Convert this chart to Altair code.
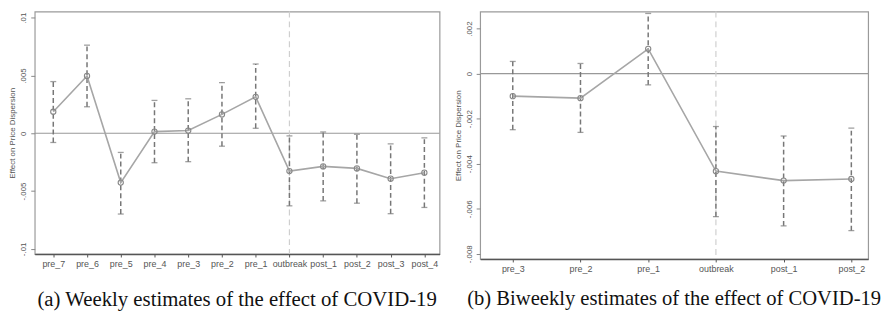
import altair as alt
import pandas as pd

# Weekly estimates (panel a)
cats_w = ["pre_7", "pre_6", "pre_5", "pre_4", "pre_3", "pre_2", "pre_1",
          "outbreak", "post_1", "post_2", "post_3", "post_4"]
est_w = [0.00186, 0.00496, -0.00427, 0.00014, 0.00023, 0.00163, 0.00315,
         -0.00327, -0.00287, -0.00304, -0.00393, -0.00341]
lo_w = [-0.00080, 0.00229, -0.00699, -0.00255, -0.00246, -0.00112, 0.00043,
        -0.00628, -0.00585, -0.00605, -0.00696, -0.00642]
hi_w = [0.00447, 0.00762, -0.00166, 0.00284, 0.00298, 0.00438, 0.00599,
        -0.00023, 0.00011, -0.00009, -0.00092, -0.00040]
ticks_w = [-0.01, -0.005, 0, 0.005, 0.01]

# Biweekly estimates (panel b)
cats_b = ["pre_3", "pre_2", "pre_1", "outbreak", "post_1", "post_2"]
est_b = [-0.00100, -0.00109, 0.00110, -0.00433, -0.00475, -0.00468]
lo_b = [-0.00249, -0.00261, -0.00050, -0.00635, -0.00676, -0.00697]
hi_b = [0.00054, 0.00045, 0.00267, -0.00235, -0.00277, -0.00242]
ticks_b = [-0.008, -0.006, -0.004, -0.002, 0, 0.002]

caption_a = "(a) Weekly estimates of the effect of COVID-19"
caption_b = "(b) Biweekly estimates of the effect of COVID-19"

SANS = "Liberation Sans"
SERIF = "Liberation Serif"


def panel(cats, est, lo, hi, ticks, domain, w, h, caption, toff, fsize,
          pad, align):
    df = pd.DataFrame({"cat": cats, "est": est, "lo": lo, "hi": hi})
    xenc = alt.X("cat:N", sort=cats,
                 scale=alt.Scale(type="point", padding=pad, align=align,
                                 domain=cats),
                 axis=alt.Axis(title=None, labelAngle=0, labelFontSize=9,
                               labelFont=SANS, labelColor="#555",
                               tickColor="#555", tickSize=3, domainColor="#555",
                               domainWidth=1.5, labelPadding=3))
    yscale = alt.Scale(domain=domain, nice=False, zero=False)
    yaxis = alt.Axis(title="Effect on Price Dispersion", values=ticks,
                     labelExpr="datum.value == 0 ? '0' : replace(toString(datum.value), '0.', '.')",
                     labelAngle=270, labelAlign="center", labelBaseline="bottom",
                     labelFontSize=8, labelFont=SANS, labelColor="#555",
                     labelPadding=3, tickColor="#888", tickSize=4,
                     domain=False, titleFontSize=8, titleFont=SANS,
                     titleFontWeight="normal", titleColor="#555", titlePadding=3)
    zero = alt.Chart(pd.DataFrame({"z": [0]})).mark_rule(
        color="#999", strokeWidth=1.2).encode(y=alt.Y("z:Q", scale=yscale, axis=yaxis))
    vline = alt.Chart(pd.DataFrame({"cat": ["outbreak"]})).mark_rule(
        color="#cfcfcf", strokeWidth=1.2, strokeDash=[6, 4]).encode(x=xenc)
    base = alt.Chart(df).encode(x=xenc)
    bars = base.mark_rule(color="#777", strokeWidth=1.5, strokeDash=[5, 3]).encode(
        y=alt.Y("lo:Q", scale=yscale), y2="hi:Q")
    cap_lo = base.mark_tick(color="#777", size=6, thickness=1.3).encode(
        y=alt.Y("lo:Q", scale=yscale))
    cap_hi = base.mark_tick(color="#777", size=6, thickness=1.3).encode(
        y=alt.Y("hi:Q", scale=yscale))
    line = base.mark_line(color="#a6a6a6", strokeWidth=1.6).encode(
        y=alt.Y("est:Q", scale=yscale))
    pts = base.mark_point(color="#888", filled=False, size=28, strokeWidth=1.1,
                          opacity=1).encode(y=alt.Y("est:Q", scale=yscale))
    return alt.layer(zero, vline, bars, cap_lo, cap_hi, line, pts).properties(
        width=w, height=h,
        title=alt.TitleParams(caption, orient="bottom", font=SERIF, fontSize=fsize,
                              fontWeight="normal", color="#111", offset=toff,
                              baseline="top"))


left = panel(cats_w, est_w, lo_w, hi_w, ticks_w, [-0.01045, 0.01053],
             409, 245, caption_a, 20, 21, 0.5, 0.55)
right = panel(cats_b, est_b, lo_b, hi_b, ticks_b, [-0.00823, 0.002756],
              392, 250, caption_b, 15, 20.8, 0.365, 0.66)

chart = alt.hconcat(left, right, spacing=12).properties(
    padding={"left": 0, "top": 0, "right": 0, "bottom": 0}
).configure_view(stroke="#9a9a9a", strokeWidth=1.2
).configure_axis(grid=False)

chart.save("out.html", embed_options={"renderer": "svg", "actions": False})
